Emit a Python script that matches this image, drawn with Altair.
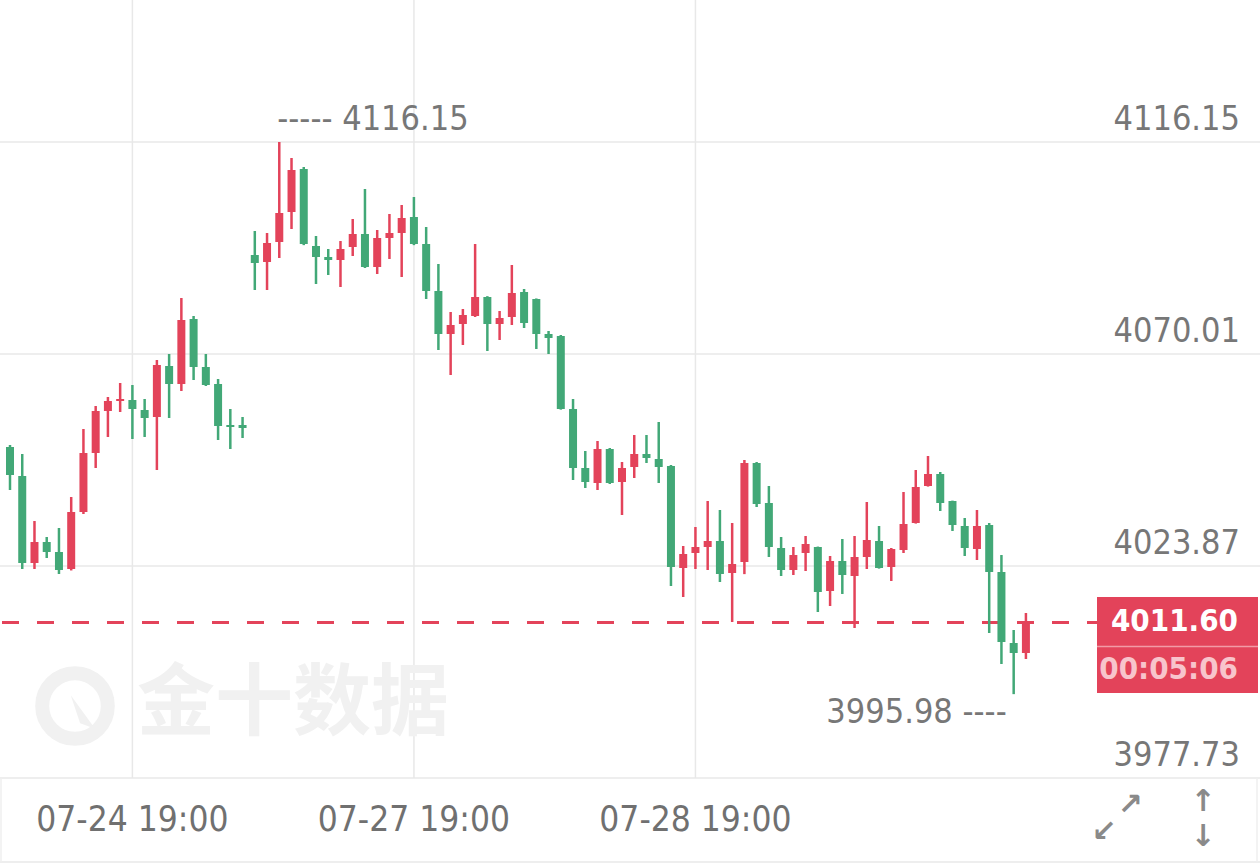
import altair as alt
import pandas as pd

# ---------------- data ----------------
opens = [4049.77, 4043.46, 4024.52, 4029.09, 4026.92, 4023.22, 4035.62, 4048.46, 4057.60, 4059.78,
         4060.00, 4057.82, 4056.30, 4067.40, 4063.48, 4077.63, 4067.18, 4063.48, 4054.56, 4054.56,
         4091.56, 4090.03, 4094.39, 4100.91, 4110.27, 4093.51, 4091.12, 4090.47, 4093.30, 4096.13,
         4088.94, 4095.26, 4096.34, 4099.83, 4093.95, 4083.72, 4074.36, 4076.54, 4078.28, 4082.42,
         4076.54, 4078.06, 4083.50, 4081.98, 4074.36, 4073.93, 4058.04, 4045.20, 4041.93, 4049.33,
         4042.15, 4045.42, 4048.25, 4047.16, 4045.63, 4023.43, 4026.70, 4028.01, 4029.31, 4022.35,
         4024.74, 4046.29, 4037.58, 4027.79, 4023.00, 4026.70, 4028.01, 4018.43, 4024.96, 4021.69,
         4025.83, 4029.31, 4023.65, 4027.35, 4033.23, 4041.28, 4043.89, 4038.02, 4032.58, 4027.57,
         4032.79, 4022.56, 4007.11, 4004.94]
highs = [4050.20, 4048.25, 4033.66, 4030.18, 4032.14, 4038.89, 4053.69, 4058.69, 4060.65, 4063.70,
         4063.26, 4060.22, 4068.70, 4070.01, 4082.20, 4078.28, 4070.01, 4064.57, 4058.04, 4056.30,
         4096.78, 4096.34, 4116.15, 4112.67, 4110.71, 4095.69, 4092.86, 4094.60, 4099.39, 4105.92,
         4097.00, 4100.48, 4102.44, 4104.18, 4097.65, 4089.60, 4079.15, 4079.80, 4093.95, 4082.60,
         4079.37, 4089.38, 4084.16, 4082.10, 4075.02, 4074.15, 4060.22, 4048.90, 4051.08, 4049.55,
         4046.50, 4052.38, 4052.38, 4055.21, 4045.85, 4028.22, 4032.36, 4038.02, 4036.06, 4033.23,
         4046.94, 4046.50, 4041.28, 4030.18, 4028.01, 4030.40, 4028.10, 4026.05, 4029.75, 4030.40,
         4037.80, 4032.58, 4027.79, 4039.98, 4044.76, 4047.81, 4044.33, 4038.10, 4034.32, 4036.06,
         4033.23, 4026.26, 4009.94, 4013.64]
lows = [4040.41, 4023.22, 4023.22, 4025.61, 4022.13, 4022.90, 4035.19, 4045.20, 4051.95, 4057.39,
        4051.51, 4051.95, 4044.76, 4056.08, 4061.96, 4064.35, 4063.05, 4051.29, 4049.33, 4051.73,
        4083.94, 4083.94, 4090.90, 4097.21, 4093.70, 4085.24, 4087.20, 4084.59, 4091.34, 4088.73,
        4087.42, 4090.69, 4086.77, 4093.70, 4081.98, 4070.88, 4065.44, 4071.97, 4078.06, 4070.66,
        4073.06, 4076.32, 4075.67, 4071.10, 4070.01, 4057.90, 4042.59, 4040.85, 4040.41, 4041.72,
        4034.97, 4043.02, 4046.29, 4041.93, 4019.52, 4017.12, 4023.22, 4023.00, 4020.39, 4011.68,
        4022.10, 4036.71, 4025.83, 4021.69, 4021.91, 4022.78, 4013.86, 4015.16, 4017.78, 4010.38,
        4023.22, 4023.30, 4020.61, 4026.70, 4033.10, 4041.15, 4035.84, 4031.49, 4026.05, 4025.18,
        4009.29, 4002.54, 3995.98, 4003.63]
closes = [4043.68, 4024.52, 4029.09, 4026.92, 4023.00, 4035.62, 4048.46, 4057.60, 4059.78, 4060.22,
          4058.04, 4056.08, 4067.62, 4063.48, 4077.41, 4067.18, 4063.26, 4054.34, 4054.12, 4053.90,
          4089.81, 4094.17, 4100.70, 4110.06, 4093.95, 4091.12, 4090.47, 4092.86, 4096.13, 4088.94,
          4095.26, 4096.34, 4099.61, 4093.95, 4083.72, 4074.36, 4076.32, 4078.50, 4082.42, 4076.54,
          4077.84, 4083.29, 4076.76, 4074.36, 4073.49, 4058.04, 4045.20, 4042.15, 4049.33, 4041.93,
          4045.20, 4048.25, 4047.38, 4045.42, 4023.65, 4026.48, 4028.01, 4029.31, 4022.13, 4024.31,
          4046.29, 4037.36, 4028.01, 4023.00, 4026.26, 4028.66, 4018.21, 4024.96, 4021.91, 4025.83,
          4029.53, 4023.43, 4027.57, 4033.01, 4041.06, 4043.89, 4037.58, 4032.79, 4027.79, 4032.58,
          4022.56, 4007.33, 4004.94, 4011.60]

x_tick_index = [10, 33, 56]
x_tick_labels = ["07-24 19:00", "07-27 19:00", "07-28 19:00"]
y_ticks = [4116.15, 4070.01, 4023.87, 3977.73]
last_price = 4011.60
countdown = "00:05:06"
watermark = "金十数据"

# ---------------- styling ----------------
RED = "#E3435A"
GREEN = "#42A877"
GRID = "#e8e8e8"
TXT = "#777777"
FONT = "Liberation Sans Narrow, DejaVu Sans Condensed, Roboto"
W, H = 1260, 778

n = len(opens)
df = pd.DataFrame({
    "i": list(range(n)),
    "open": opens, "high": highs, "low": lows, "close": closes,
})
df["dir"] = ["up" if c >= o else "down" for o, c in zip(opens, closes)]

step = 12.24
x0 = -10 / step
xscale = alt.Scale(domain=[x0, x0 + W / step], nice=False, zero=False, padding=0)
yscale = alt.Scale(domain=[3977.73, 3977.73 + H / (212 / 46.14)], nice=False, zero=False, padding=0)
cscale = alt.Scale(domain=["up", "down"], range=[RED, GREEN])

X = lambda f: alt.X(f, scale=xscale, axis=None)
Y = lambda f: alt.Y(f, scale=yscale, axis=None)

ydf = pd.DataFrame({"v": y_ticks})
xdf = pd.DataFrame({"i": x_tick_index, "label": x_tick_labels})

hgrid = alt.Chart(ydf).mark_rule(color=GRID, strokeWidth=1.5).encode(
    y=Y("v:Q"), x=alt.value(0), x2=alt.value(W))
vgrid = alt.Chart(xdf).mark_rule(color=GRID, strokeWidth=1.5).encode(
    x=X("i:Q"), y=alt.value(0), y2=alt.value(H))
frame_df = pd.DataFrame({"k": [0]})
bottom_line = alt.Chart(frame_df).mark_rule(color=GRID, strokeWidth=1.5).encode(
    y=alt.value(862), x=alt.value(0), x2=alt.value(W))
left_line = alt.Chart(frame_df).mark_rule(color="#efefef", strokeWidth=1.5).encode(
    x=alt.value(1), y=alt.value(H), y2=alt.value(862))
right_line = alt.Chart(frame_df).mark_rule(color="#efefef", strokeWidth=1.5).encode(
    x=alt.value(1257), y=alt.value(H), y2=alt.value(862))

# watermark
wm_text = alt.Chart(pd.DataFrame({"t": [watermark]})).mark_text(
    font="Noto Sans CJK SC", fontWeight="bold", fontSize=78, align="left",
    baseline="middle", color="#f1f1f1").encode(
    text="t:N", x=alt.value(137), y=alt.value(706))
wm_ring = alt.Chart(frame_df).mark_point(
    shape="circle", size=4300, filled=False, stroke="#f1f1f1", strokeWidth=14,
    opacity=1).encode(x=alt.value(75), y=alt.value(706))
wm_leaf = alt.Chart(frame_df).mark_point(
    shape="M-0.6,-0.9 L0.7,0.9 L-0.1,0.6 Z", size=1400, filled=True, color="#f1f1f1",
    opacity=1).encode(x=alt.value(82), y=alt.value(712))

# last price dashed line
price_df = pd.DataFrame({"v": [last_price]})
price_line = alt.Chart(price_df).mark_rule(
    color=RED, strokeWidth=3, strokeDash=[17, 18], strokeDashOffset=-2).encode(
    y=Y("v:Q"), x=alt.value(0), x2=alt.value(1097))

base = alt.Chart(df)
wicks = base.mark_rule(strokeWidth=2.5).encode(
    x=X("i:Q"), y=Y("low:Q"), y2="high:Q",
    color=alt.Color("dir:N", scale=cscale, legend=None))
bodies = base.mark_bar(size=8).encode(
    x=X("i:Q"), y=Y("open:Q"), y2="close:Q",
    color=alt.Color("dir:N", scale=cscale, legend=None))

ylabels = alt.Chart(ydf).mark_text(
    font=FONT, fontSize=34, align="right", baseline="alphabetic", dy=-12,
    color=TXT).encode(
    y=Y("v:Q"), x=alt.value(1240), text=alt.Text("v:Q", format=".2f"))
xlabels = alt.Chart(xdf).mark_text(
    font=FONT, fontSize=35, align="center", baseline="middle",
    color="#707070").encode(
    x=X("i:Q"), y=alt.value(820), text="label:N")

hi_i = max(range(n), key=lambda k: highs[k])
lo_i = min(range(n), key=lambda k: lows[k])
hi_df = pd.DataFrame({"i": [hi_i], "v": [highs[hi_i]], "label": ["----- " + f"{highs[hi_i]:.2f}"]})
lo_df = pd.DataFrame({"i": [lo_i], "v": [lows[lo_i]], "label": [f"{lows[lo_i]:.2f}" + "  ----"]})
hi_label = alt.Chart(hi_df).mark_text(
    font=FONT, fontSize=34, align="left", baseline="middle", dx=-2, dy=-22,
    color=TXT).encode(x=X("i:Q"), y=Y("v:Q"), text="label:N")
lo_label = alt.Chart(lo_df).mark_text(
    font=FONT, fontSize=34, align="right", baseline="middle", dx=-7, dy=19,
    color=TXT).encode(x=X("i:Q"), y=Y("v:Q"), text="label:N")

# price tag
tag_rect = alt.Chart(price_df).mark_rect(color=RED).encode(
    x=alt.value(1097), x2=alt.value(1258), y=alt.value(597), y2=alt.value(693))
tag_div = alt.Chart(price_df).mark_rule(color="#f29aa6", strokeWidth=1.5).encode(
    x=alt.value(1097), x2=alt.value(1258), y=alt.value(646.5))
tag_price = alt.Chart(price_df).mark_text(
    font=FONT, fontSize=31, fontWeight="bold", align="right", baseline="middle",
    color="white").encode(
    y=Y("v:Q"), x=alt.value(1238), text=alt.Text("v:Q", format=".2f"))
tag_time = alt.Chart(pd.DataFrame({"t": [countdown]})).mark_text(
    font=FONT, fontSize=31, fontWeight="bold", align="right", baseline="middle",
    color="#f8c4cc").encode(
    y=alt.value(670), x=alt.value(1238), text="t:N")

# corner icons
icon_df = pd.DataFrame({
    "t": ["\u2197", "\u2199", "\u2191", "\u2193"],
    "px": [1130, 1104, 1203, 1203],
    "py": [805, 832, 802, 837],
})
icons = alt.Chart(icon_df).mark_text(
    font="DejaVu Sans", fontSize=30, fontWeight="bold", align="center",
    baseline="middle", color="#8a8a8a").encode(
    text="t:N",
    x=alt.X("px:Q", scale=alt.Scale(domain=[0, W], range=[0, W], padding=0), axis=None),
    y=alt.Y("py:Q", scale=alt.Scale(domain=[0, 867], range=[0, 867], padding=0), axis=None))

full = alt.layer(
    alt.layer(hgrid, vgrid, bottom_line, left_line, right_line, wm_ring, wm_leaf, wm_text,
              price_line, wicks, bodies, ylabels, xlabels, hi_label, lo_label,
              tag_rect, tag_div, tag_price, tag_time),
    icons,
).resolve_scale(x="independent", y="independent").properties(
    width=W, height=H, autosize="none", background="white",
    padding={"left": 0, "top": 0, "right": 0, "bottom": 89},
).configure_view(strokeWidth=0)

full.save("out.html", embed_options={"renderer": "svg", "actions": False})
